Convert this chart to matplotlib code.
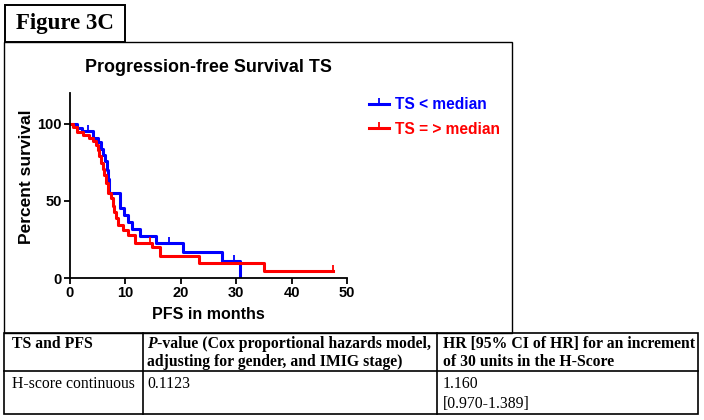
"""Figure 3C: Kaplan-Meier PFS by TS H-score, with Cox model table below"""

import matplotlib
matplotlib.use("Agg")
import matplotlib.pyplot as plt
from matplotlib.lines import Line2D
from matplotlib.patches import Rectangle

# Kaplan-Meier steps (months, percent surviving)
blue_t = [0, 1.2, 2.2, 4.1, 5.0, 5.6, 6.0, 6.4, 6.7, 6.9, 7.1, 9.1, 9.8, 10.4, 11.2, 12.6, 15.6, 20.4, 27.4, 30.6]
blue_s = [100, 97, 95.5, 90.7, 88, 84, 80, 76, 70, 64, 55, 45.6, 41, 36.5, 32, 27, 23, 17, 11.3, 0]
blue_cens_t = [3.2, 17.8, 29.6]
blue_cens_s = [95.5, 23, 11.3]

red_t = [0, 0.5, 1.2, 2.3, 3.5, 4.1, 4.7, 5.0, 5.3, 5.6, 5.9, 6.2, 6.5, 6.8, 7.4, 7.7, 8.0, 8.3, 8.6,
         9.5, 10.4, 11.7, 14.8, 16.3, 23.3, 35.1, 47.5]
red_s = [100, 98, 95, 93, 91, 88.7, 86.5, 83, 79, 74.6, 71, 67, 61.5, 55, 51.7, 47, 43, 38.7, 34.3,
         31, 27.8, 22.8, 19.8, 14.3, 9.6, 4.6, 4.6]
red_cens_t = [14.4, 47.5]
red_cens_s = [22.8, 4.6]

labels = ["TS < median", "TS = > median"]

# table contents (one entry per printed line)
col1_head = ["TS and PFS"]
col2_head = ["-value (Cox proportional hazards model,", "adjusting for gender, and IMIG stage)"]
col3_head = ["HR [95% CI of HR] for an increment", "of 30 units in the H-Score"]
col1_row = ["H-score continuous"]
col2_row = ["0.1123"]
col3_row = ["1.160", "[0.970-1.389]"]

W, H = 704, 420
fig = plt.figure(figsize=(W / 100, H / 100), dpi=100)


def fx(x):
    return x / W


def fy(y):
    return 1 - y / H


def box(x0, y0, x1, y1, lw=1.2):
    fig.patches.append(Rectangle((fx(x0), fy(y1)), fx(x1) - fx(x0), fy(y0) - fy(y1),
                                 transform=fig.transFigure, fill=False, ec='black', lw=lw))


def hline(y, x0, x1, lw=1.2):
    fig.add_artist(Line2D([fx(x0), fx(x1)], [fy(y), fy(y)], transform=fig.transFigure, color='black', lw=lw))


def vline(x, y0, y1, lw=1.2):
    fig.add_artist(Line2D([fx(x), fx(x)], [fy(y0), fy(y1)], transform=fig.transFigure, color='black', lw=lw))


# frames
box(5, 5, 125, 42, lw=1.4)
box(4, 42, 512, 333, lw=1.0)
fig.text(fx(65), fy(24), "Figure 3C", family="Liberation Serif", weight="bold", size=16.5,
         ha="center", va="center")

# survival plot
ax = fig.add_axes([fx(70), fy(278), fx(347) - fx(70), fy(93) - fy(278)])
ax.step(blue_t, blue_s, where='post', color='#0000ff', lw=2.2)
ax.step(red_t, red_s, where='post', color='#ff0000', lw=2.2)
ax.plot(blue_cens_t, blue_cens_s, ls='none', marker=2, ms=4, mew=1.3, color='#0000ff')
ax.plot(red_cens_t, red_cens_s, ls='none', marker=2, ms=4, mew=1.3, color='#ff0000')
ax.set_xlim(0, 50)
ax.set_ylim(0, 120)
ax.set_xticks([0, 10, 20, 30, 40, 50])
ax.set_yticks([0, 50, 100])
for s in ['top', 'right']:
    ax.spines[s].set_visible(False)
for s in ['left', 'bottom']:
    ax.spines[s].set_linewidth(1.3)
ax.tick_params(width=1.3, length=4.5, labelsize=10.5, pad=1.5)
for lab in ax.get_xticklabels() + ax.get_yticklabels():
    lab.set_family("Liberation Sans")
    lab.set_weight("bold")
ax.set_xlabel("PFS in months", family="Liberation Sans", weight="bold", size=11.5, labelpad=5)
ax.set_ylabel("Percent survival", family="Liberation Sans", weight="bold", size=12.5)
ax.yaxis.set_label_coords(-0.13, 0.55)
fig.text(fx(208), fy(68), "Progression-free Survival TS", family="Liberation Sans", weight="bold",
         size=12.9, ha="center", va="center")

# legend
handles = [Line2D([], [], color='#0000ff', lw=2.2, marker=2, ms=4, mew=1.3),
           Line2D([], [], color='#ff0000', lw=2.2, marker=2, ms=4, mew=1.3)]
leg = fig.legend(handles, labels, loc='upper left', bbox_to_anchor=(fx(363), fy(91)), frameon=False,
                 handlelength=1.3, handletextpad=0.35, labelspacing=0.62, borderaxespad=0,
                 prop={'family': 'Liberation Sans', 'weight': 'bold', 'size': 11.2})
for txt, c in zip(leg.get_texts(), ['#0000ff', '#ff0000']):
    txt.set_color(c)

# table
box(4, 333, 698, 414, lw=1.2)
hline(371, 4, 698)
vline(143, 333, 414)
vline(437, 333, 414)
tfont = dict(family="Liberation Serif", size=11.3, va="center")
head_y = [344, 362]
row_y = [384, 404]
for txt, y in zip(col1_head, head_y):
    fig.text(fx(12), fy(y), txt, weight="bold", **tfont)
p = fig.text(fx(147), fy(head_y[0]), "P", weight="bold", style="italic", **tfont)
fig.canvas.draw()
pw = p.get_window_extent().width
fig.text(fx(147 + pw), fy(head_y[0]), col2_head[0], weight="bold", **tfont)
fig.text(fx(147), fy(head_y[1]), col2_head[1], weight="bold", **tfont)
for txt, y in zip(col3_head, head_y):
    fig.text(fx(443), fy(y), txt, weight="bold", **tfont)
for txt, y in zip(col1_row, row_y):
    fig.text(fx(12), fy(y), txt, **tfont)
for txt, y in zip(col2_row, row_y):
    fig.text(fx(147), fy(y), txt, **tfont)
for txt, y in zip(col3_row, row_y):
    fig.text(fx(443), fy(y), txt, **tfont)

fig.savefig("out.png", dpi=100)
